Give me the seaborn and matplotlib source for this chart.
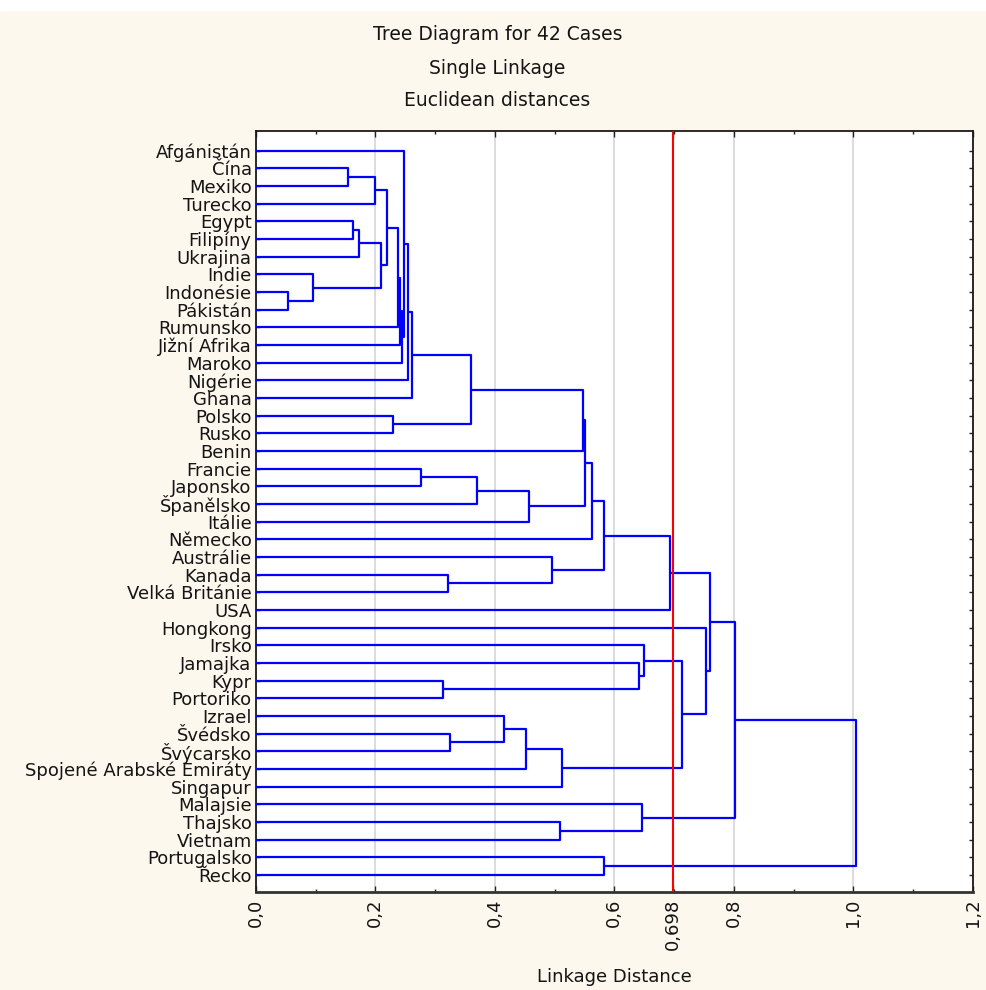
import matplotlib
matplotlib.use("Agg")
import matplotlib.pyplot as plt
from matplotlib.patches import Rectangle
from matplotlib.ticker import MultipleLocator, FixedLocator
import numpy as np
import pandas as pd
import seaborn as sns

# Cases in dendrogram (leaf) order, top to bottom
countries = [
    "Afgánistán", "Čína", "Mexiko", "Turecko", "Egypt", "Filipíny", "Ukrajina",
    "Indie", "Indonésie", "Pákistán", "Rumunsko", "Jižní Afrika", "Maroko",
    "Nigérie", "Ghana", "Polsko", "Rusko", "Benin", "Francie", "Japonsko",
    "Španělsko", "Itálie", "Německo", "Austrálie", "Kanada", "Velká Británie",
    "USA", "Hongkong", "Irsko", "Jamajka", "Kypr", "Portoriko", "Izrael",
    "Švédsko", "Švýcarsko", "Spojené Arabské Emiráty", "Singapur", "Malajsie",
    "Thajsko", "Vietnam", "Portugalsko", "Řecko",
]

# Agglomeration steps (single linkage). Ids below 42 are cases,
# id 42 + k is the cluster formed in step k.
merge_left = [8, 7, 1, 4, 45, 44, 46, 47, 15, 49,
              51, 52, 0, 54, 55, 18, 30, 24, 33, 56,
              57, 32, 63, 62, 23, 38, 64, 61, 69, 70,
              71, 40, 29, 28, 37, 72, 75, 27, 77, 80,
              81]
merge_right = [9, 42, 2, 5, 6, 3, 43, 48, 16, 10,
               11, 12, 53, 13, 14, 19, 31, 25, 34, 50,
               20, 60, 35, 21, 59, 39, 36, 17, 65, 22,
               66, 41, 58, 74, 67, 26, 68, 78, 79, 76,
               73]
merge_height = [0.054, 0.095, 0.155, 0.162, 0.172, 0.200, 0.210, 0.219, 0.230, 0.238,
                0.242, 0.245, 0.248, 0.254, 0.262, 0.276, 0.314, 0.322, 0.325, 0.360,
                0.371, 0.415, 0.453, 0.458, 0.496, 0.509, 0.513, 0.547, 0.551, 0.562,
                0.583, 0.583, 0.642, 0.649, 0.646, 0.694, 0.713, 0.753, 0.760, 0.802,
                1.004]

cut_distance = 0.698
x_ticks = [0.0, 0.2, 0.4, 0.6, cut_distance, 0.8, 1.0, 1.2]

# Build the elbow segments of the tree
n = len(countries)
ypos = {i: float(i) for i in range(n)}
height = {i: 0.0 for i in range(n)}
rows = []
for k, (a, b, h) in enumerate(zip(merge_left, merge_right, merge_height)):
    pts = [(height[a], ypos[a]), (h, ypos[a]), (h, ypos[b]), (height[b], ypos[b])]
    for order, (xv, yv) in enumerate(pts):
        rows.append({"link": k, "order": order, "dist": xv, "case": yv})
    ypos[n + k] = (ypos[a] + ypos[b]) / 2.0
    height[n + k] = h
segments = pd.DataFrame(rows)

sns.set_style("white")
plt.rcParams["font.family"] = ["DejaVu Sans"]
text_color = "#141414"

fig = plt.figure(figsize=(9.87, 9.90), dpi=100)
fig.patch.set_facecolor("#fdf8ee")
fig.patches.append(Rectangle((0, 1 - 10 / 990), 1, 10 / 990,
                             transform=fig.transFigure, color="white", zorder=0))

ax = fig.add_axes([255.8 / 987, 1 - 891.7 / 990, 717.0 / 987, 760.7 / 990])
ax.set_facecolor("white")

sns.lineplot(data=segments, x="dist", y="case", units="link", estimator=None,
             sort=False, color="#0000ff", linewidth=1.6, legend=False, ax=ax,
             zorder=3)

ax.axvline(cut_distance, color="#ff0000", linewidth=1.5, zorder=4)

ax.set_xlim(0, 1.2)
ax.set_ylim(n - 1 + 0.95, -1.11)

ax.xaxis.set_major_locator(FixedLocator(x_ticks))
ax.xaxis.set_minor_locator(MultipleLocator(0.1))
ax.set_xticklabels([(f"{v:.3f}" if v == cut_distance else f"{v:.1f}").replace(".", ",")
                    for v in x_ticks])
ax.set_yticks(range(n))
ax.set_yticklabels(countries)

ax.grid(axis="x", which="major", color="#d9d9d9", linewidth=1.3, zorder=0)
ax.grid(axis="y", visible=False)

ax.tick_params(axis="x", which="major", direction="in", top=True, bottom=True,
               length=4, width=1, color="#222222", pad=5, labelrotation=90,
               labelsize=13, labelcolor=text_color)
ax.tick_params(axis="x", which="minor", direction="in", top=True, bottom=True,
               length=2.5, width=1, color="#222222")
ax.tick_params(axis="y", direction="in", left=True, right=True, length=3,
               width=1, color="#222222", pad=3, labelsize=13,
               labelcolor=text_color)

for side in ["left", "right", "top", "bottom"]:
    ax.spines[side].set_visible(True)
    ax.spines[side].set_color("#1a1a1a")
    ax.spines[side].set_linewidth(1.3)
ax.spines["bottom"].set_linewidth(2.0)
ax.spines["bottom"].set_color("#333333")

ax.set_ylabel("")
ax.set_xlabel("Linkage Distance", fontsize=13, color=text_color)
ax.xaxis.set_label_coords(0.5, (891.7 - 977) / 760.7)
ax.xaxis.label.set_va("center")

titles = ["Tree Diagram for 42 Cases", "Single Linkage", "Euclidean distances"]
for t, yc in zip(titles, [34, 68, 100]):
    fig.text(497.5 / 987, 1 - yc / 990, t, ha="center", va="center",
             fontsize=13.5, color=text_color)

fig.savefig("out.png", dpi=100, facecolor=fig.get_facecolor())
